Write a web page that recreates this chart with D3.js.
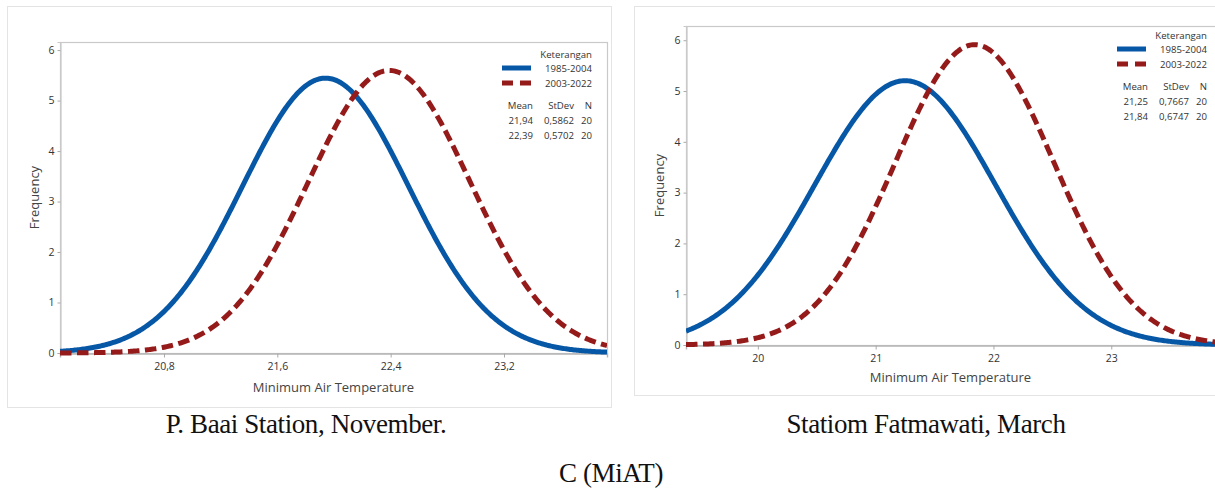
<!DOCTYPE html>
<html>
<head>
<meta charset="utf-8">
<script src="https://cdn.jsdelivr.net/npm/d3@7"></script>
<style>
  html, body { margin: 0; padding: 0; background: #fff; }
  svg { display: block; }
  .tick text { font-family: "Open Sans", "Noto Sans", sans-serif; }
</style>
</head>
<body>
<svg id="fig" width="1215" height="493"></svg>
<script>
// ---- data ----
const periods = ["1985-2004", "2003-2022"];
const seriesColors = ["#0757a7", "#951a1a"];

// P. Baai Station, November
const baaiMean = [21.94, 22.39];
const baaiStDev = [0.5862, 0.5702];
const baaiN = [20, 20];
const baaiBinWidth = 0.4;
const baaiXDomain = [20.066, 23.927];
const baaiXTicks = [20.8, 21.6, 22.4, 23.2];

// Fatmawati Station, March
const fatMean = [21.25, 21.84];
const fatStDev = [0.7667, 0.6747];
const fatN = [20, 20];
const fatBinWidth = 0.5;
const fatXDomain = [19.39, 23.94];
const fatXTicks = [20, 21, 22, 23];

const yTicks = [0, 1, 2, 3, 4, 5, 6];

const captions = ["P. Baai Station, November.", "Statiom Fatmawati, March"];
const figureLabel = "C (MiAT)";

// ---- helpers ----
const idLocale = d3.formatLocale({ decimal: ",", thousands: ".", grouping: [3], currency: ["", ""] });
const fmt1 = idLocale.format(".1f");
const fmt2 = idLocale.format(".2f");
const fmt4 = idLocale.format(".4f");

const sansFont = '"Open Sans", "Noto Sans", sans-serif';
const serifFont = '"Palatino Linotype", "Book Antiqua", Palatino, "Liberation Serif", "DejaVu Serif", serif';

// fitted normal curve scaled to frequency: N * binWidth * pdf(x)
function fittedCurve(mean, sd, n, bw, domain) {
  const step = (domain[1] - domain[0]) / 400;
  return d3.range(domain[0], domain[1] + step / 2, step).map(x => {
    const z = (x - mean) / sd;
    return [x, n * bw * Math.exp(-0.5 * z * z) / (sd * Math.sqrt(2 * Math.PI))];
  });
}

const svg = d3.select("#fig");

function drawPanel(cfg) {
  const g = svg.append("g");

  // outer frame of the graph window
  g.append("rect")
    .attr("x", cfg.frame.x + 0.5).attr("y", cfg.frame.y + 0.5)
    .attr("width", cfg.frame.w).attr("height", cfg.frame.h)
    .attr("fill", "#fff").attr("stroke", "#e4e4e4").attr("stroke-width", 1);

  const p = cfg.plot;
  const x = d3.scaleLinear().domain(cfg.xDomain).range([p.left, p.right]);
  const y = d3.scaleLinear().domain(cfg.yDomain).range([p.bottom, p.top]);

  // plot-area border
  g.append("rect")
    .attr("x", p.left + 0.5).attr("y", p.top + 0.5)
    .attr("width", p.right - p.left).attr("height", p.bottom - p.top)
    .attr("fill", "none").attr("stroke", "#c9c9c9").attr("stroke-width", 1.2);

  // axes
  const xAxis = g.append("g")
    .attr("transform", `translate(0,${p.bottom + 0.5})`)
    .call(d3.axisBottom(x).tickValues(cfg.xTicks).tickSize(4).tickPadding(5).tickFormat(cfg.xFormat));
  xAxis.select(".domain").attr("stroke", "#b5b5b5").attr("stroke-width", 1.4);
  xAxis.selectAll(".tick line").attr("stroke", "#aaa");
  xAxis.selectAll(".tick text").attr("font-size", 10.5).attr("fill", "#333");

  const yAxis = g.append("g")
    .attr("transform", `translate(${p.left + 0.5},0)`)
    .call(d3.axisLeft(y).tickValues(yTicks).tickSize(3).tickPadding(3).tickFormat(d3.format("d")));
  yAxis.select(".domain").attr("stroke", "#c9c9c9").attr("stroke-width", 1.2);
  yAxis.selectAll(".tick line").attr("stroke", "#aaa");
  yAxis.selectAll(".tick text").attr("font-size", 10.5).attr("fill", "#333");

  // axis titles
  g.append("text")
    .attr("x", (p.left + Math.min(p.right, 1215)) / 2).attr("y", cfg.xTitleY)
    .attr("text-anchor", "middle").attr("font-family", sansFont)
    .attr("font-size", 13).attr("fill", "#444")
    .text("Minimum Air Temperature");
  g.append("text")
    .attr("transform", `translate(${cfg.yTitleX},${(p.top + p.bottom) / 2}) rotate(-90)`)
    .attr("text-anchor", "middle").attr("font-family", sansFont)
    .attr("font-size", 13).attr("fill", "#444")
    .text("Frequency");

  // curves, clipped to the plot area
  const clipId = "clip-" + cfg.id;
  g.append("clipPath").attr("id", clipId)
    .append("rect").attr("x", p.left).attr("y", p.top - 10)
    .attr("width", p.right - p.left).attr("height", p.bottom - p.top + 14);

  const line = d3.line().x(d => x(d[0])).y(d => y(d[1])).curve(d3.curveLinear);
  const curves = g.append("g").attr("clip-path", `url(#${clipId})`);
  cfg.mean.forEach((m, i) => {
    curves.append("path")
      .datum(fittedCurve(m, cfg.sd[i], cfg.n[i], cfg.bw, cfg.xDomain))
      .attr("d", line)
      .attr("fill", "none")
      .attr("stroke", seriesColors[i])
      .attr("stroke-width", 5)
      .attr("stroke-dasharray", i === 1 ? "11.5,5.5" : null);
  });

  // legend
  const L = cfg.legend;
  const lg = g.append("g").attr("font-family", sansFont).attr("font-size", 9.6).attr("fill", "#333");
  lg.append("text").attr("x", L.right).attr("y", L.top).attr("text-anchor", "end").text("Keterangan");
  periods.forEach((lab, i) => {
    const yy = L.top + 13.5 + i * 15;
    lg.append("line")
      .attr("x1", L.right - 90).attr("x2", L.right - 61)
      .attr("y1", yy - 3.5).attr("y2", yy - 3.5)
      .attr("stroke", seriesColors[i]).attr("stroke-width", 5)
      .attr("stroke-dasharray", i === 1 ? "11,7" : null);
    lg.append("text").attr("x", L.right).attr("y", yy).attr("text-anchor", "end").text(lab);
  });
  const hy = L.top + 51;
  const cols = [L.right - 59, L.right - 18, L.right];
  ["Mean", "StDev", "N"].forEach((h, j) =>
    lg.append("text").attr("x", cols[j]).attr("y", hy).attr("text-anchor", "end").text(h));
  cfg.mean.forEach((m, i) => {
    const yy = hy + 14.5 + i * 15;
    [fmt2(m), fmt4(cfg.sd[i]), String(cfg.n[i])].forEach((t, j) =>
      lg.append("text").attr("x", cols[j]).attr("y", yy).attr("text-anchor", "end").text(t));
  });
}

drawPanel({
  id: "baai",
  frame: { x: 7, y: 6, w: 604, h: 401 },
  plot: { left: 60, top: 42, right: 607, bottom: 353 },
  xDomain: baaiXDomain, yDomain: [0, 6.16],
  xTicks: baaiXTicks, xFormat: fmt1,
  mean: baaiMean, sd: baaiStDev, n: baaiN, bw: baaiBinWidth,
  xTitleY: 392, yTitleX: 39,
  legend: { right: 592, top: 58 }
});

drawPanel({
  id: "fat",
  frame: { x: 634, y: 6, w: 600, h: 389 },
  plot: { left: 686, top: 26, right: 1222, bottom: 345 },
  xDomain: fatXDomain, yDomain: [0, 6.28],
  xTicks: fatXTicks, xFormat: d3.format("d"),
  mean: fatMean, sd: fatStDev, n: fatN, bw: fatBinWidth,
  xTitleY: 382, yTitleX: 664,
  legend: { right: 1207, top: 39 }
});

// captions
const capStyle = sel => sel.attr("text-anchor", "middle").attr("font-family", serifFont)
  .attr("font-size", 27).attr("fill", "#111").attr("letter-spacing", -0.4);
svg.append("text").attr("x", 306).attr("y", 433).call(capStyle).text(captions[0]);
svg.append("text").attr("x", 926).attr("y", 433).call(capStyle).text(captions[1]);
svg.append("text").attr("x", 611).attr("y", 482).call(capStyle).text(figureLabel);
</script>
</body>
</html>
